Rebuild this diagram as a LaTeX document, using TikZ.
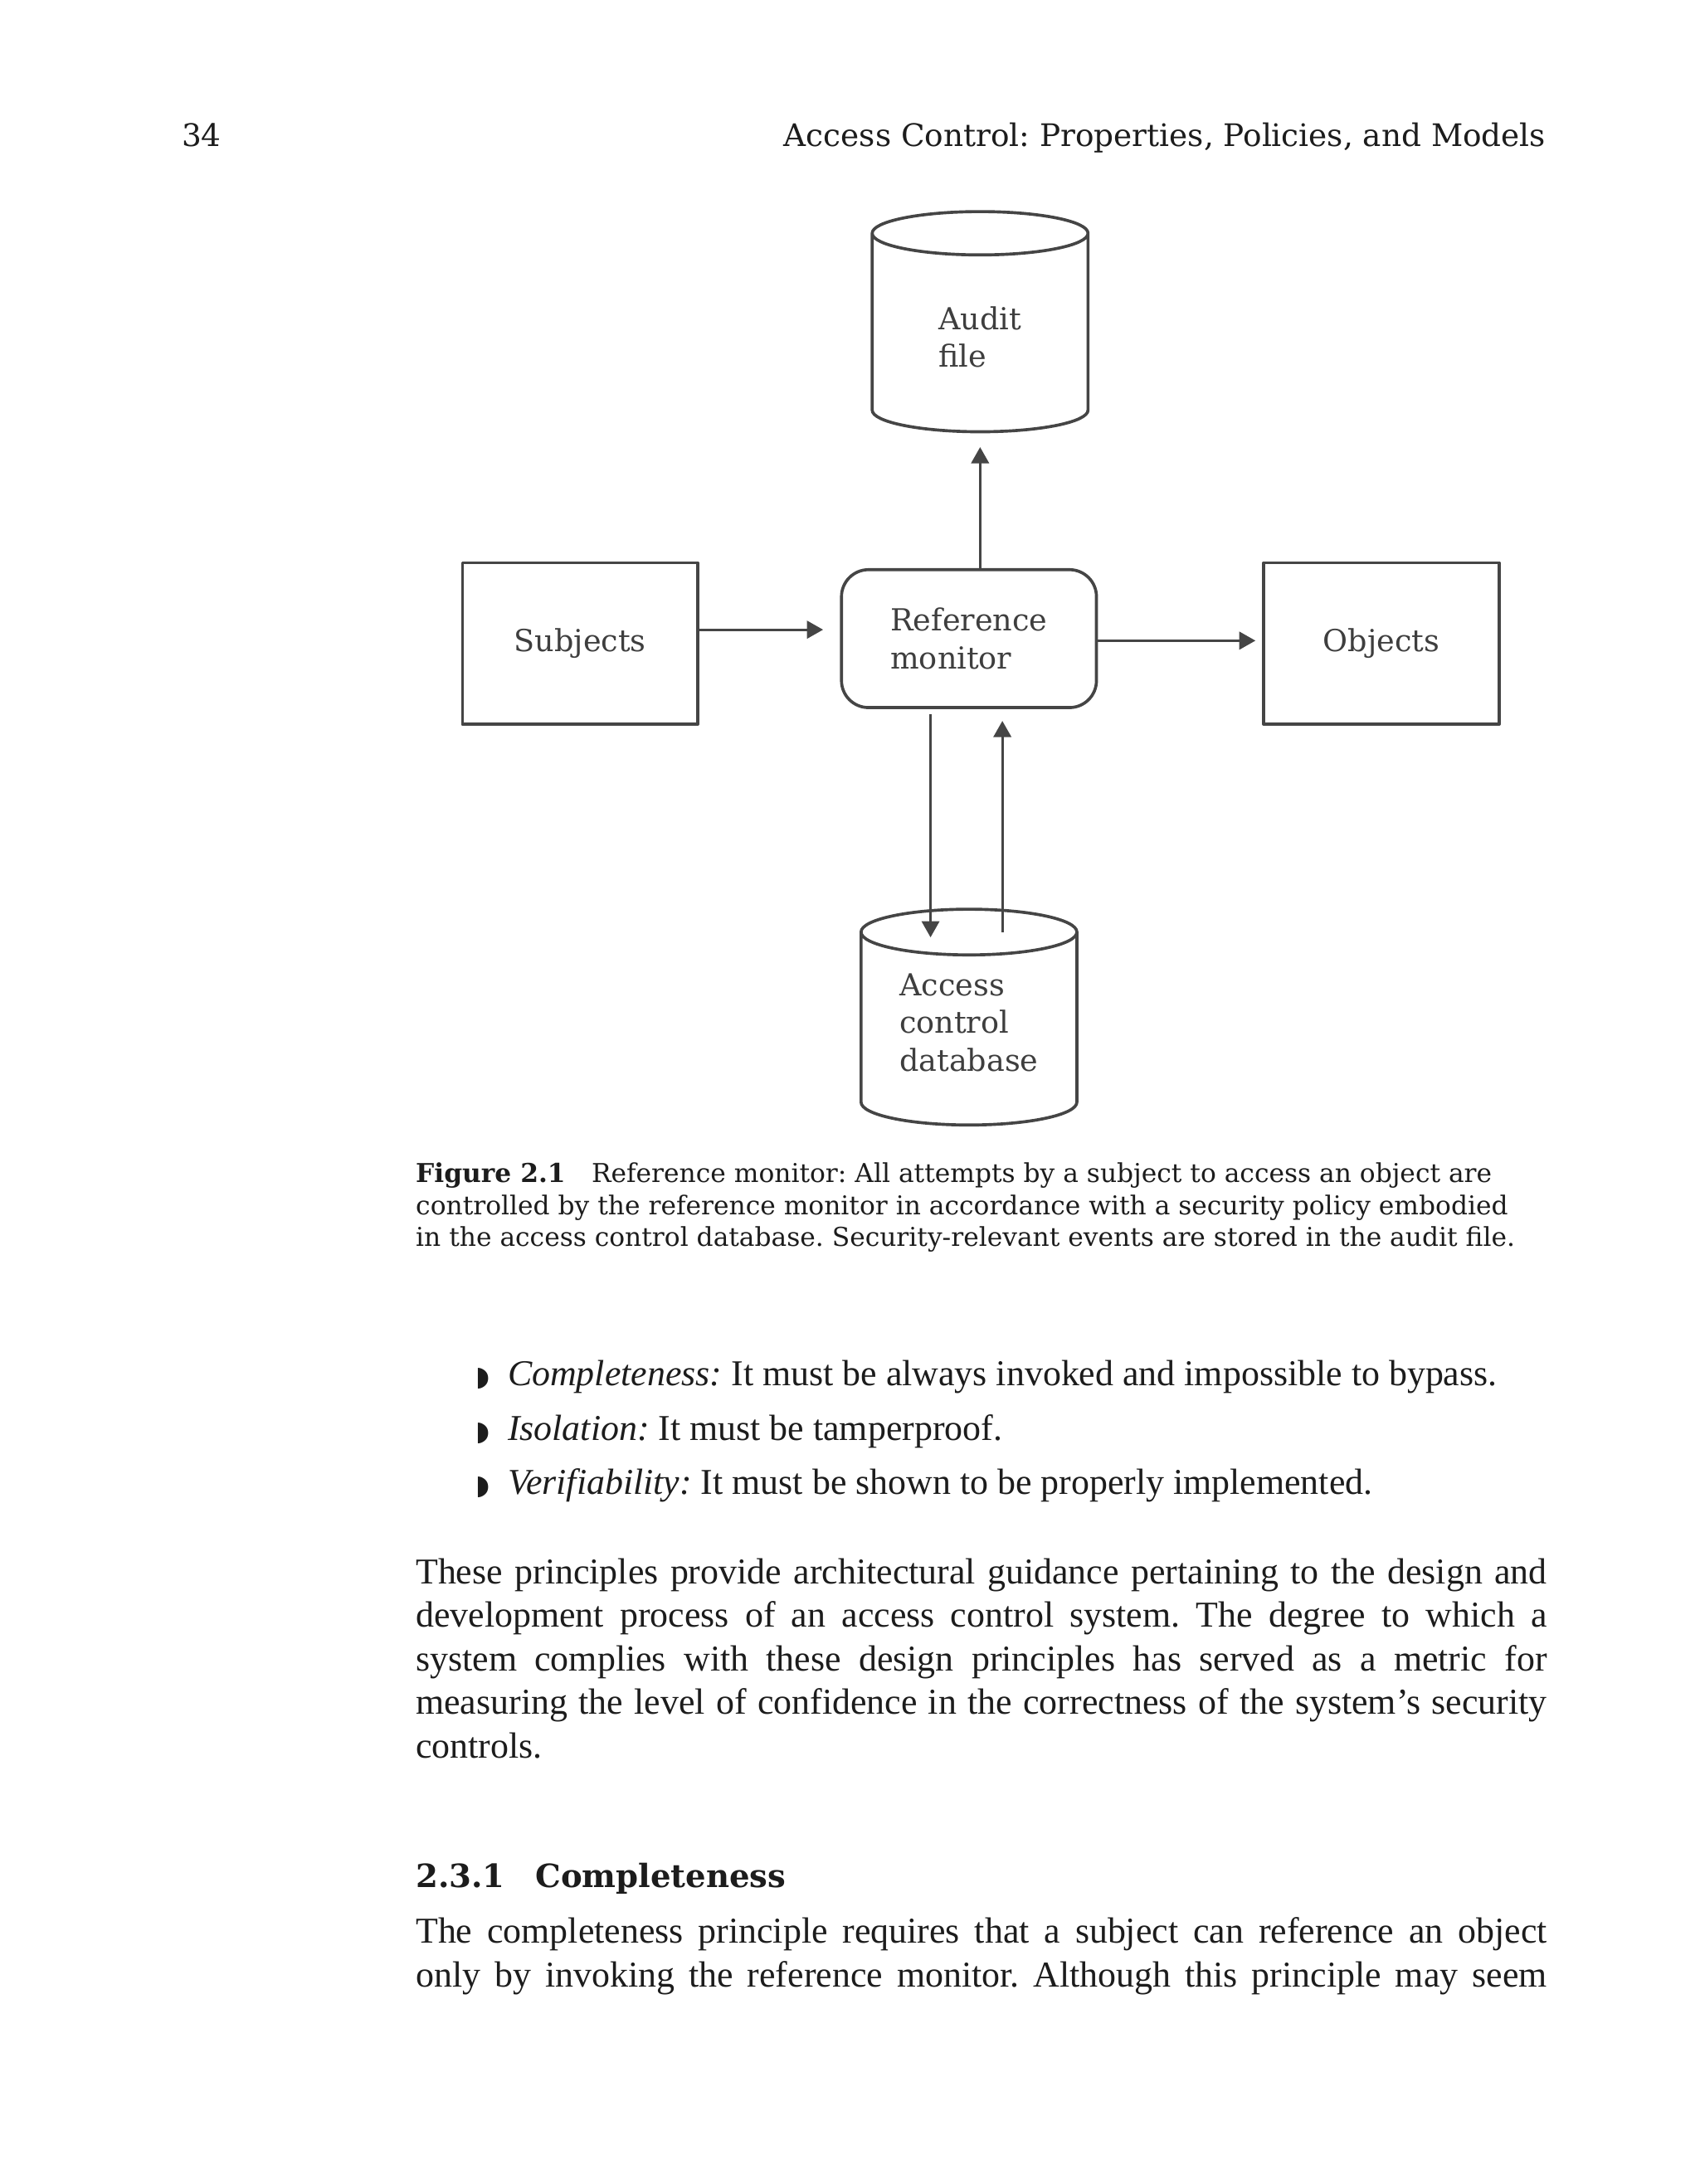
\documentclass[tikz,border=0pt]{standalone}
\usepackage{fontspec}
\usepackage{xcolor}
\usepackage{tikz}
\usetikzlibrary{arrows.meta,positioning,calc,shapes.geometric}
\setmainfont{Liberation Serif}
\newfontfamily\slab{DejaVu Serif}
\newfontfamily\symb{DejaVu Sans}
\definecolor{linegray}{HTML}{454545}
\definecolor{labelgray}{HTML}{3E3E3E}
\definecolor{ink}{HTML}{1C1C1C}
\frenchspacing
\tikzset{
    every picture/.style={line join=round},
    boxnode/.style={draw=linegray,line width=0.9pt,minimum width=69.8pt,
      minimum height=47.9pt,inner sep=2pt,text=labelgray,
      font=\slab\fontsize{9}{11.2}\selectfont,align=left},
    monitornode/.style={boxnode,rounded corners=8pt,minimum width=75.6pt,
      minimum height=40.9pt},
    storenode/.style={cylinder,shape border rotate=90,shape aspect=0.45,
      draw=linegray,line width=0.9pt,minimum width=64pt,inner sep=2pt,
      text=labelgray,font=\slab\fontsize{9}{11.2}\selectfont,align=left},
    storetext/.style={inner sep=0pt,text=labelgray,
      font=\slab\fontsize{9}{11.2}\selectfont,align=left},
    flowarrow/.style={-{Triangle[length=4.8pt,width=5.2pt]},draw=linegray,
      line width=0.8pt},
    pagetext/.style={inner sep=0pt,text=ink,anchor=base west}
}

\begin{document}
\begin{tikzpicture}[x=0.4131pt,y=-0.4131pt]
  \useasboundingbox (0,0) rectangle (1220,1568);
  % running head
  \node[pagetext] (pnum) at (130,105) {\slab\fontsize{9.2}{10}\selectfont 34};
  \node[pagetext,anchor=base east] (rhead) at (1110,105)
    {\slab\fontsize{9.2}{10}\selectfont Access Control: Properties, Policies, and Models};
  % figure
  \node[monitornode] (rm) at (695.5,458.5) {Reference\\monitor};
  \node[boxnode,left=41.7pt of rm,yshift=-1.45pt] (subj) {Subjects};
  \node[boxnode,right=48.7pt of rm,yshift=-1.45pt] (obj) {Objects};
  \node[storenode,minimum height=65.3pt,above=40pt of rm,xshift=3.3pt] (audit) {Audit\\file};
  \node[storenode,shape aspect=0.3,minimum height=64pt,below=58.9pt of rm] (acdb)
    {\phantom{\begin{tabular}{@{}l@{}}Access\\control\\database\end{tabular}}};
  \node[storetext] (acdbtext) at ([yshift=-34pt]acdb.north) {Access\\control\\database};
  \coordinate (sj) at ([yshift=4.1pt]subj.east);
  \coordinate (ob) at ([yshift=-0.6pt]rm.east);
  \draw[flowarrow,shorten >=5pt] (sj) -- (sj -| rm.west);
  \draw[flowarrow,shorten >=2pt] (ob) -- (ob -| obj.west);
  \draw[flowarrow,shorten >=4.1pt] ([xshift=3.3pt]rm.north) -- (audit.south);
  \draw[flowarrow] ([xshift=-11.4pt,yshift=-1.6pt]rm.south) -- ([xshift=-11.4pt,yshift=-8.8pt]acdb.north);
  \draw[flowarrow] ([xshift=9.9pt,yshift=-7.2pt]acdb.north) -- ([xshift=9.9pt,yshift=-3.5pt]rm.south);
  % caption
  \node[pagetext] (cap) at (298,849) {\parbox[t]{345pt}{\slab\fontsize{7.7}{9.5}\selectfont\raggedright
    \textbf{Figure 2.1}\quad Reference monitor: All attempts by a subject to access an object are\\
    controlled by the reference monitor in accordance with a security policy embodied\\
    in the access control database. Security-relevant events are stored in the audit file.}};
  % bullets
  \foreach \yy/\txt [count=\i] in {995/{\textit{Completeness:} It must be always invoked and impossible to bypass.},
      1034/{\textit{Isolation:} It must be tamperproof.},
      1073/{\textit{Verifiability:} It must be shown to be properly implemented.}}{
    \node[pagetext] (dot\i) at (341,\yy) {\symb\fontsize{8}{8}\selectfont ◗};
    \node[pagetext] (item\i) at (364,\yy) {\fontsize{10.8}{12.93}\selectfont \txt};
  }
  % body text
  \node[pagetext] (para1) at (298,1137) {\parbox[t]{335.4pt}{\fontsize{10.8}{12.93}\selectfont
    These principles provide architectural guidance pertaining to the design and\linebreak
    development process of an access control system. The degree to which a\linebreak
    system complies with these design principles has served as a metric for\linebreak
    measuring the level of confidence in the correctness of the system’s security\linebreak
    controls.}};
  \node[pagetext] (sect) at (298,1355)
    {\slab\bfseries\fontsize{9.5}{11}\selectfont 2.3.1\hspace{9pt}Completeness};
  \node[pagetext] (para2) at (298,1395) {\parbox[t]{335.4pt}{\fontsize{10.8}{12.93}\selectfont
    \parfillskip=0pt The completeness principle requires that a subject can reference an object\linebreak
    only by invoking the reference monitor. Although this principle may seem\par}};
\end{tikzpicture}
\end{document}
